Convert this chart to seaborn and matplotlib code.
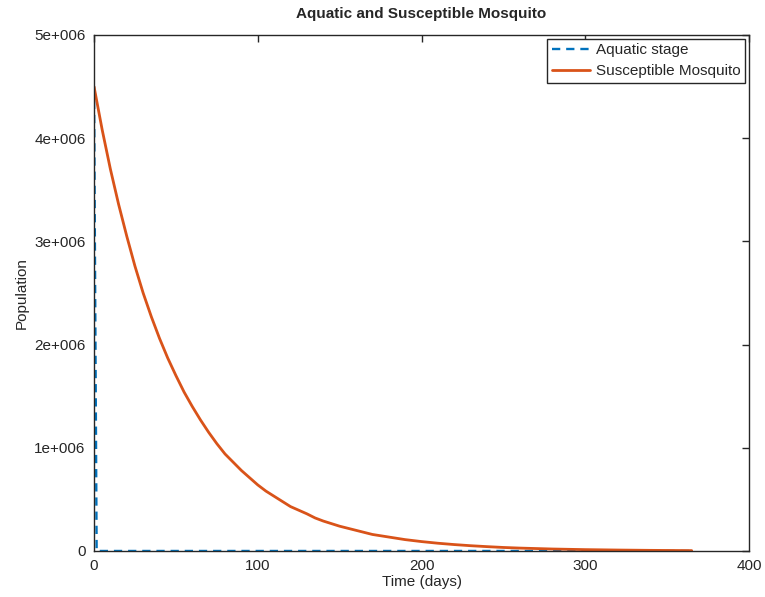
import matplotlib
matplotlib.use("Agg")
import matplotlib.pyplot as plt
import seaborn as sns
import pandas as pd
from matplotlib.ticker import FixedLocator, FixedFormatter

# Data
susc_t = [0, 5, 10, 15, 20, 25, 30, 35, 40, 45, 50, 55, 60, 65, 70, 75, 80, 85,
          90, 95, 100, 105, 110, 115, 120, 125, 130, 135, 140, 145, 150, 155,
          160, 170, 180, 190, 200, 210, 220, 230, 240, 250, 260, 280, 300, 320,
          340, 365]
susc_y = [4.50e6, 4.08e6, 3.70e6, 3.36e6, 3.05e6, 2.76e6, 2.50e6, 2.27e6, 2.06e6,
          1.87e6, 1.70e6, 1.54e6, 1.40e6, 1.27e6, 1.15e6, 1.04e6, 0.94e6, 0.86e6,
          0.78e6, 0.71e6, 0.64e6, 0.58e6, 0.53e6, 0.48e6, 0.43e6, 0.395e6,
          0.36e6, 0.32e6, 0.29e6, 0.265e6, 0.24e6, 0.22e6, 0.20e6, 0.16e6,
          0.135e6, 0.11e6, 0.091e6, 0.075e6, 0.062e6, 0.051e6, 0.042e6,
          0.034e6, 0.028e6, 0.019e6, 0.013e6, 0.009e6, 0.006e6, 0.0035e6]
aqua_t = [0, 1.6, 365]
aqua_y = [4.50e6, 0, 0]

x_ticks = [0, 100, 200, 300, 400]
x_tick_labels = ["0", "100", "200", "300", "400"]
y_ticks = [0, 1e6, 2e6, 3e6, 4e6, 5e6]
y_tick_labels = ["0", "1e+006", "2e+006", "3e+006", "4e+006", "5e+006"]

sns.set_style("white")
plt.rcParams['font.family'] = ['Liberation Sans', 'DejaVu Sans']

df_a = pd.DataFrame({"t": aqua_t, "y": aqua_y})
df_s = pd.DataFrame({"t": susc_t, "y": susc_y})

fig = plt.figure(figsize=(7.65, 5.97), dpi=100)
ax = fig.add_axes([0.1229, 0.0771, 0.8562, 0.8643])

sns.lineplot(data=df_a, x="t", y="y", ax=ax, color="#0072BD", linewidth=1.7,
             linestyle=(0, (3.5, 2.5)), label="Aquatic stage", sort=False)
sns.lineplot(data=df_s, x="t", y="y", ax=ax, color="#D95319", linewidth=2.0,
             label="Susceptible Mosquito", sort=False)

ax.set_xlim(0, 400)
ax.set_ylim(0, 5e6)
ax.xaxis.set_major_locator(FixedLocator(x_ticks))
ax.xaxis.set_major_formatter(FixedFormatter(x_tick_labels))
ax.yaxis.set_major_locator(FixedLocator(y_ticks))
ax.yaxis.set_major_formatter(FixedFormatter(y_tick_labels))

ax.tick_params(direction="in", length=5, width=1, top=True, right=True,
               labelsize=11, colors="#262626", pad=6)
for s in ax.spines.values():
    s.set_visible(True)
    s.set_color("#262626")
    s.set_linewidth(1.0)

ax.set_xlabel("Time (days)", fontsize=11, color="#262626", labelpad=1)
ax.set_ylabel("Population", fontsize=11, color="#262626", labelpad=4)
ax.set_title("Aquatic and Susceptible Mosquito", fontsize=11, fontweight="bold",
             pad=12)

leg = ax.legend(loc="upper right", fontsize=11, frameon=True, fancybox=False,
                edgecolor="#262626", framealpha=1, borderpad=0.3,
                handlelength=2.5, handletextpad=0.4, labelspacing=0.45,
                borderaxespad=0.25)
leg.get_frame().set_linewidth(1.0)

fig.savefig("out.png", dpi=100)
